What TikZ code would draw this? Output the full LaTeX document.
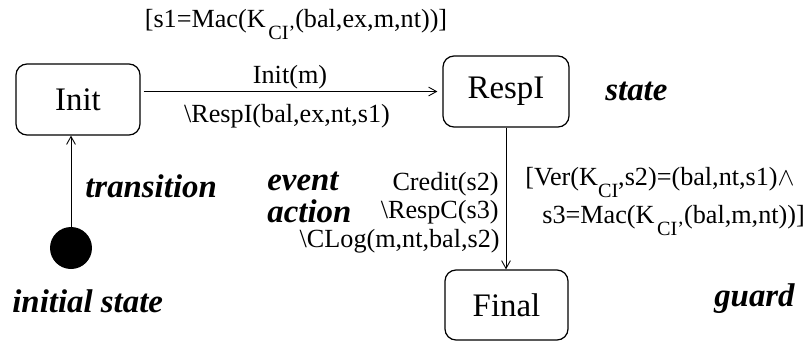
\documentclass[tikz,border=0pt]{standalone}
\usepackage{fontspec}
\setmainfont{Liberation Serif}
\usetikzlibrary{arrows.meta}
\newcommand{\kci}{K\raisebox{-7.2pt}{\fontsize{11.5}{12}\selectfont CI}}
\newcommand{\kcip}{K\hspace{1.5pt}\raisebox{-7.2pt}{\fontsize{11.5}{12}\selectfont CI'}}
\tikzset{
	statebox/.style={draw, line width=0.7pt, rounded corners=0.22cm, inner sep=0pt, font=\fontsize{18.7}{22}\selectfont},
	trans/.style={line width=0.5pt, -{Straight Barb[length=4.5pt,width=5pt]}},
	lbl/.style={inner sep=0pt, font=\fontsize{14.9}{18}\selectfont},
	note/.style={inner sep=0pt, font=\fontsize{18.7}{22}\selectfont\bfseries\itshape}
}
\begin{document}
\begin{tikzpicture}[x=0.02cm, y=-0.02cm]
			%%%%% START %%%%%
			\useasboundingbox (0,0) rectangle (805,343);
			
			\node[statebox, minimum width=2.48cm, minimum height=1.42cm] (init) at (78, 99.5) {Init};
			\node[statebox, minimum width=2.52cm, minimum height=1.42cm] (respi) at (506, 91.5) {RespI};
			\node[statebox, minimum width=2.46cm, minimum height=1.40cm] (final) at (506.5, 305) {Final};
			\node[circle, fill, minimum size=0.84cm, inner sep=0pt] (start) at (71, 248) {};
			
			\draw[trans, shorten <=0.06cm, shorten >=0.1cm] (init.east |- respi.west) -- (respi.west);
			\draw[trans] (start) -- (start |- init.south);
			\draw[trans] (respi) -- (respi |- final.north);
			
			\node[lbl, anchor=base] (guardi) at (296, 27) {[s1=Mac(\kcip(bal,ex,m,nt))]};
			\node[lbl, anchor=base] (eventi) at (290, 83) {Init(m)};
			\node[lbl, anchor=base] (actioni) at (287, 122) {\textbackslash RespI(bal,ex,nt,s1)};
			
			\node[lbl, anchor=base east] (eventc) at (499, 190) {Credit(s2)};
			\node[lbl, anchor=base east] (actionc) at (499, 218) {\textbackslash RespC(s3)};
			\node[lbl, anchor=base east] (actionl) at (500, 247) {\textbackslash CLog(m,nt,bal,s2)};
			\node[lbl, anchor=base west] (guardv) at (525, 185) {[Ver(\kci,s2)=(bal,nt,s1)$\wedge$};
			\node[lbl, anchor=base west] (guardm) at (542, 223) {s3=Mac(\kcip(bal,m,nt))]};
			
			\node[note, anchor=base west] (nstate) at (605, 100) {state};
			\node[note, anchor=base west] (ntrans) at (85, 197) {transition};
			\node[note, anchor=base west] (nevent) at (267, 190) {event};
			\node[note, anchor=base west] (naction) at (267, 222) {action};
			\node[note, anchor=base east] (nguard) at (795, 306) {guard};
			\node[note, anchor=base west] (ninit) at (12, 312) {initial state};
			%%%%% END %%%%%
\end{tikzpicture}
\end{document}
